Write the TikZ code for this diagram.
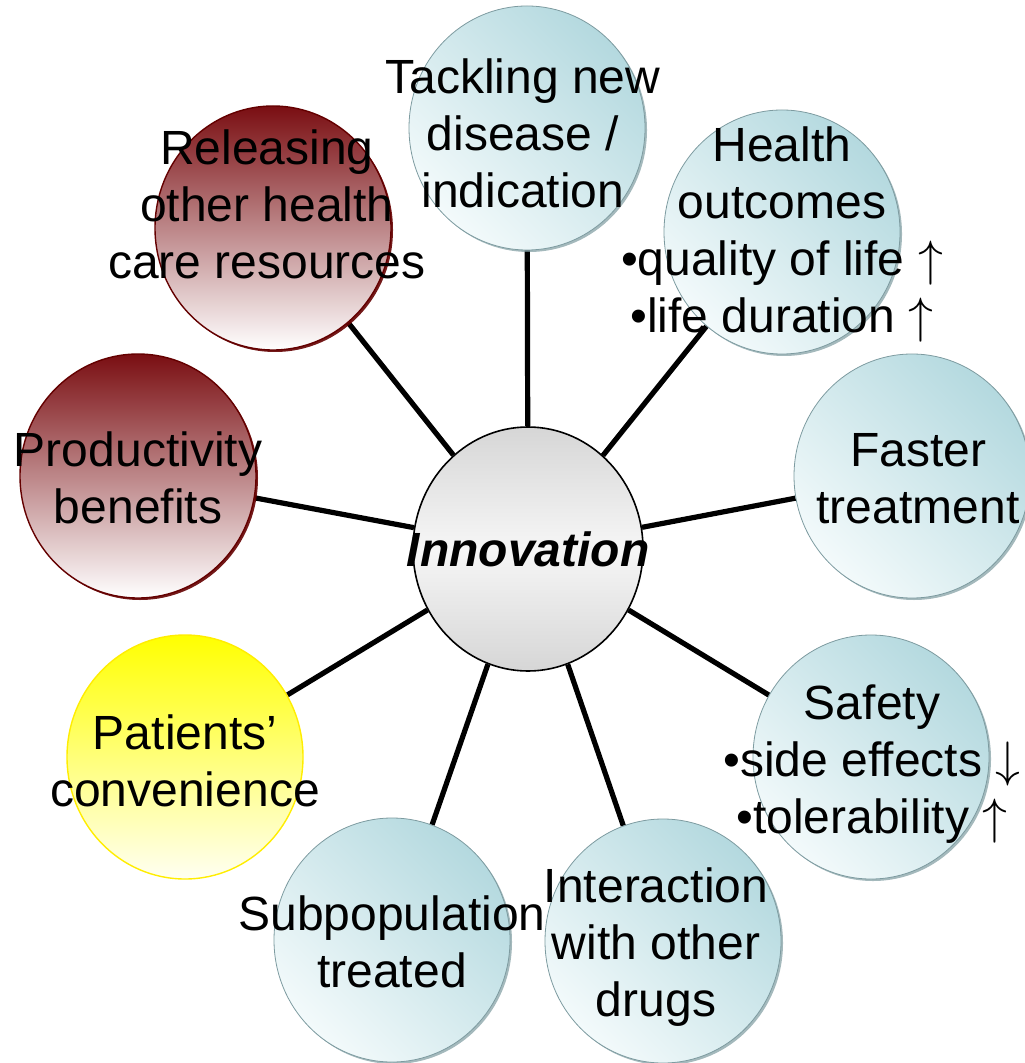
\documentclass[tikz,border=0pt]{standalone}
\usepackage{fontspec}
\setmainfont{Liberation Sans}
\usepackage{tikz}
\usetikzlibrary{shapes.geometric,shadows,backgrounds}

\definecolor{tealdark}{RGB}{180,217,223}
\definecolor{teallight}{RGB}{243,250,251}
\definecolor{tealedge}{RGB}{125,155,160}
\definecolor{redtop}{RGB}{122,14,18}
\definecolor{rededge}{RGB}{100,0,0}
\definecolor{yellowtop}{RGB}{255,255,0}
\definecolor{yellowbot}{RGB}{255,255,242}
\definecolor{hubgray}{RGB}{214,214,214}
\definecolor{hubwhite}{RGB}{246,246,246}

\tikzset{
    ball/.style={ellipse, minimum width=118pt, minimum height=122pt, inner sep=0pt},
    tealball/.style={ball, draw=tealedge, line width=0.4pt,
        top color=tealdark, bottom color=teallight, shading angle=-45,
        drop shadow={shadow xshift=1pt, shadow yshift=-1pt, fill=tealedge, opacity=0.7}},
    redball/.style={ball, draw=rededge, line width=0.7pt,
        top color=redtop, bottom color=white,
        drop shadow={shadow xshift=1pt, shadow yshift=-1pt, fill=rededge, opacity=0.9}},
    yellowball/.style={ball, draw=yellow!95!orange, line width=0.7pt,
        top color=yellowtop, bottom color=yellowbot},
    hubball/.style={ball, minimum width=115pt, minimum height=122pt, draw=black, line width=0.8pt,
        top color=hubgray, bottom color=hubgray, middle color=hubwhite},
    spoke/.style={line width=2.6pt, black},
    txt/.style={align=center, inner sep=0pt, font=\fontsize{24}{28.5}\selectfont},
}

\begin{document}
\begin{tikzpicture}[x=0.5pt, y=-0.5pt]
    \useasboundingbox (0,0) rectangle (1024,1063);

    % central node
    \node[hubball] (hub) at (528,549) {};

    % outer nodes, clockwise from the top
    \node[tealball] (tackle) at (527,128) {};
    \node[tealball] (health) at (782,232) {};
    \node[tealball] (faster) at (912,476) {};
    \node[tealball] (safety) at (871,757) {};
    \node[tealball] (interact) at (663,941) {};
    \node[tealball] (subpop) at (392,940) {};
    \node[yellowball] (patients) at (185,757) {};
    \node[redball] (product) at (138,476) {};
    \node[redball] (release) at (273,228) {};

    % spokes behind the nodes
    \begin{scope}[on background layer]
        \foreach \n in {tackle,health,faster,safety,interact,subpop,patients,product,release}
            \draw[spoke] (hub) -- (\n);
    \end{scope}

    % labels
    \node[txt, font=\fontsize{24}{28.5}\selectfont\bfseries\itshape] (hub-txt) at (hub) {Innovation};
    \node[txt] (tackle-txt) at (523,133) {Tackling new\\disease /\\indication};
    \node[txt] (health-txt) at (782,234) {Health\\outcomes\\•quality of life $\uparrow$\\•life duration $\uparrow$};
    \node[txt] (faster-txt) at (918,479) {Faster\\treatment};
    \node[txt] (safety-txt) at (872,764) {Safety\\•side effects $\downarrow$\\•tolerability $\uparrow$};
    \node[txt] (interact-txt) at (656,947) {Interaction\\with other\\drugs};
    \node[txt] (subpop-txt) at (392,942) {Subpopulation\\treated};
    \node[txt] (patients-txt) at (185,761) {Patients’\\convenience};
    \node[txt] (product-txt) at (138,478) {Productivity\\benefits};
    \node[txt] (release-txt) at (267,204) {Releasing\\other health\\care resources};
\end{tikzpicture}
\end{document}
